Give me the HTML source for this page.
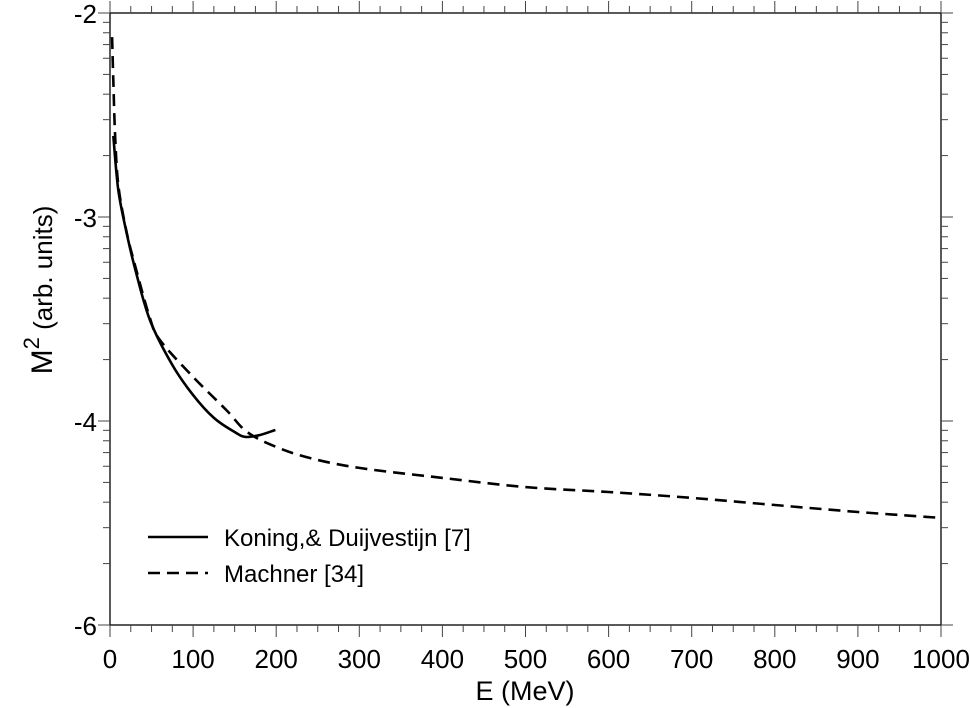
<!DOCTYPE html>
<html><head><meta charset="utf-8"><style>
body{margin:0;background:#fff}
svg{display:block;font-family:"Liberation Sans",Arial,sans-serif}
</style></head><body>
<svg id="chart" width="970" height="708" viewBox="0 0 970 708">
<g id="axes"></g>
<g id="series"></g>
<g id="legend">
 <line x1="148" y1="537" x2="208" y2="537" stroke="#000" stroke-width="2.6"/>
 <text x="224" y="546" font-size="24">Koning,&amp; Duijvestijn [7]</text>
 <line x1="148" y1="573" x2="208" y2="573" stroke="#000" stroke-width="2.6" stroke-dasharray="12,7"/>
 <text x="224" y="582" font-size="24">Machner [34]</text>
</g>
<text x="525" y="700" font-size="27" text-anchor="middle">E (MeV)</text>
<text transform="translate(52,290) rotate(-90)" font-size="26" text-anchor="middle"><tspan font-size="30">M</tspan><tspan dy="-13" font-size="22">2</tspan><tspan dy="13">   (arb. units)</tspan></text>
</svg>
<script>
const xTicks=[0,100,200,300,400,500,600,700,800,900,1000];
const yTicks=[-2,-3,-4,-5];
const yTickLabels=["-2","-3","-4","-6"];
const koningE=[4,10,20,30,48,75,100,125,150,163,180,199];
const koningM=[-2.603,-2.868,-3.078,-3.25,-3.505,-3.725,-3.873,-3.985,-4.054,-4.078,-4.069,-4.044];
const machnerE=[2.5,4,6,10,20,30,48,60,100,140,165,200,240,300,400,500,600,700,800,900,1000];
const machnerM=[-2.118,-2.328,-2.588,-2.843,-3.074,-3.235,-3.495,-3.603,-3.784,-3.946,-4.054,-4.127,-4.181,-4.230,-4.279,-4.324,-4.348,-4.377,-4.412,-4.446,-4.475];

const L=110,R=941,T=13,B=625;
const xs=e=>L+(e/1000)*(R-L);
const ys=v=>T+(-2-v)*204;
const NS="http://www.w3.org/2000/svg";
function mk(tag,attrs,parent){const el=document.createElementNS(NS,tag);for(const k in attrs)el.setAttribute(k,attrs[k]);parent.appendChild(el);return el;}
const ax=document.getElementById('axes');
const frame=mk('rect',{x:L,y:T,width:R-L,height:B-T,fill:'none',stroke:'#000','stroke-width':1.3},ax);


for(let e=0;e<=1000;e+=25){
 const major=e%100===0;const x=xs(e);const len=major?12:7;
 mk('line',{x1:x,y1:B,x2:x,y2:B+len,stroke:'#444','stroke-width':1},ax);
 mk('line',{x1:x,y1:T,x2:x,y2:T-len,stroke:'#444','stroke-width':1},ax);
}
xTicks.forEach(t=>{
 const tx=mk('text',{x:xs(t),y:B+43,'font-size':26,'text-anchor':'middle'},ax);
 tx.textContent=t;
 
 
});
yTicks.forEach((t,i)=>{
 const y=ys(t);
 mk('line',{x1:L,y1:y,x2:L-12,y2:y,stroke:'#444','stroke-width':1},ax);
 mk('line',{x1:R,y1:y,x2:R+12,y2:y,stroke:'#444','stroke-width':1},ax);
 const tx=mk('text',{x:L-13,y:y+10,'font-size':26,'text-anchor':'end'},ax);
 tx.textContent=yTickLabels[i];
 
 
 if(i<yTicks.length-1){
  for(let k=2;k<=9;k++){
   const yy=y+204*(1-Math.log10(k));
   mk('line',{x1:L,y1:yy,x2:L-7,y2:yy,stroke:'#444','stroke-width':1},ax);
   mk('line',{x1:R,y1:yy,x2:R+7,y2:yy,stroke:'#444','stroke-width':1},ax);
  }
 }
});
const sg=document.getElementById('series');
function path(E,M){
 const p=E.map((e,i)=>[xs(e),ys(M[i])]);
 let d='M'+p[0][0].toFixed(1)+','+p[0][1].toFixed(1);
 for(let i=0;i<p.length-1;i++){
  const p0=p[i-1]||p[i],p1=p[i],p2=p[i+1],p3=p[i+2]||p2;
  const c1=[p1[0]+(p2[0]-p0[0])/6,p1[1]+(p2[1]-p0[1])/6];
  const c2=[p2[0]-(p3[0]-p1[0])/6,p2[1]-(p3[1]-p1[1])/6];
  d+=' C'+c1.map(v=>v.toFixed(1)).join(',')+' '+c2.map(v=>v.toFixed(1)).join(',')+' '+p2[0].toFixed(1)+','+p2[1].toFixed(1);
 }
 return d;
}
const p1=mk('path',{d:path(koningE,koningM),fill:'none',stroke:'#000','stroke-width':2.6,'stroke-linejoin':'round'},sg);


const p2=mk('path',{d:path(machnerE,machnerM),fill:'none',stroke:'#000','stroke-width':2.6,'stroke-dasharray':'12,7'},sg);


</script>
</body></html>
